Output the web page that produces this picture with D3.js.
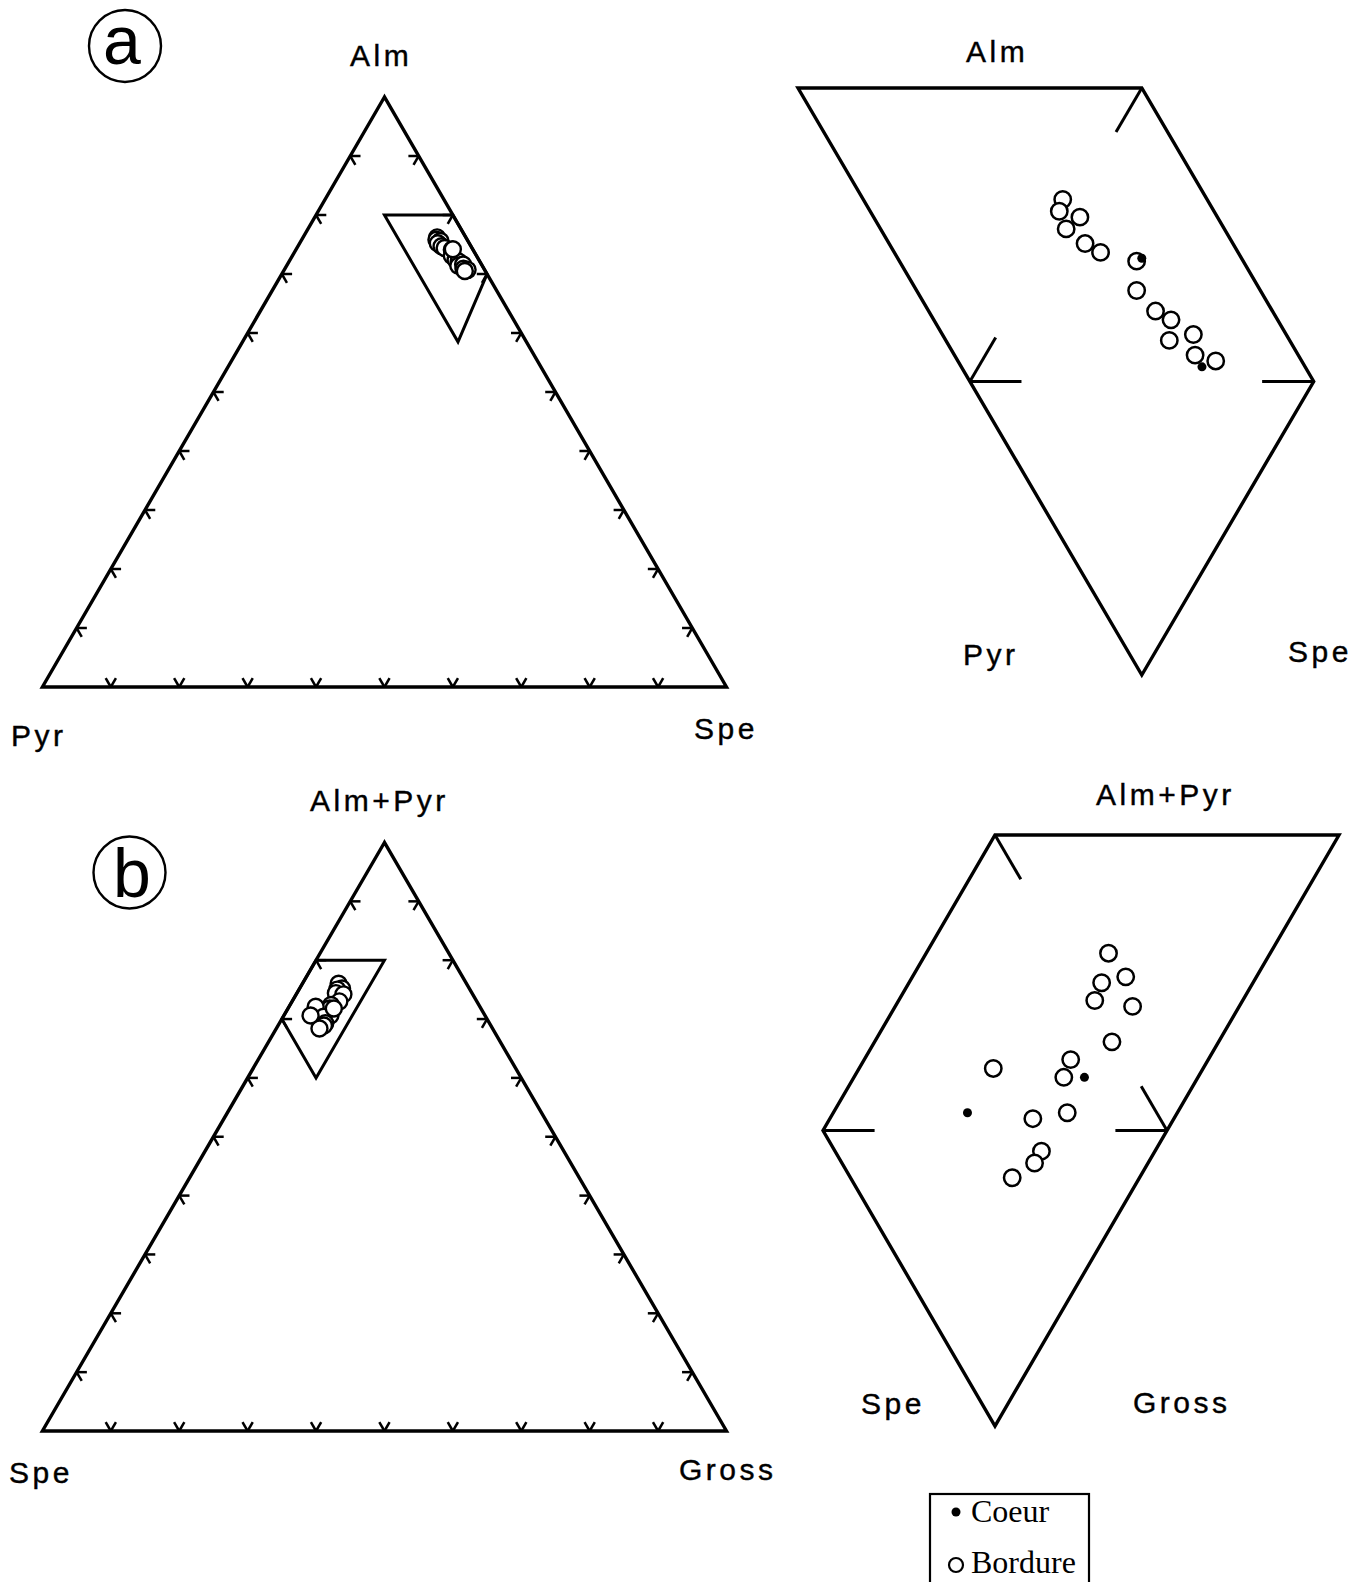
<!DOCTYPE html>
<html>
<head>
<meta charset="utf-8">
<script src="https://cdn.jsdelivr.net/npm/d3@7"></script>
<style>
  body { margin: 0; background: #fff; }
  text { fill: #000; }
</style>
</head>
<body>
<svg id="chart"></svg>
<script>
// compositions are written [top, left, right]
// panel a : [Alm, Pyr, Spe]     panel b : [Alm+Pyr, Spe, Gross]

const axesA = ["Alm", "Pyr", "Spe"];
const axesB = ["Alm+Pyr", "Spe", "Gross"];
const legendItems = ["Coeur", "Bordure"];
const panelNames = ["a", "b"];

const tickValues = [0.1, 0.2, 0.3, 0.4, 0.5, 0.6, 0.7, 0.8, 0.9];

// panel a, rims (open circles)
const bordureA = [
  [0.762, 0.042, 0.196], [0.758, 0.045, 0.197], [0.756, 0.040, 0.204],
  [0.752, 0.046, 0.202], [0.747, 0.043, 0.210], [0.744, 0.040, 0.216],
  [0.741, 0.031, 0.228], [0.731, 0.036, 0.233], [0.724, 0.034, 0.242],
  [0.721, 0.031, 0.248], [0.714, 0.035, 0.251], [0.716, 0.027, 0.257],
  [0.709, 0.030, 0.261], [0.707, 0.025, 0.268]
];
// panel a, cores (filled dots)
const coeurA = [[0.742, 0.029, 0.229], [0.705, 0.030, 0.265]];

// panel b
const bordureB = [
  [0.760, 0.187, 0.053], [0.752, 0.186, 0.062], [0.750, 0.194, 0.056],
  [0.744, 0.199, 0.057], [0.742, 0.189, 0.069], [0.730, 0.201, 0.069],
  [0.724, 0.216, 0.060], [0.718, 0.221, 0.061], [0.721, 0.240, 0.039],
  [0.706, 0.226, 0.068], [0.704, 0.237, 0.059], [0.693, 0.240, 0.067],
  [0.689, 0.244, 0.067], [0.684, 0.253, 0.063]
];
const coeurB = [[0.718, 0.215, 0.067], [0.706, 0.255, 0.039]];

// zoom windows (corners of the enlarged area)
const frameA = [[0.8, 0.1, 0.1], [0.8, 0, 0.2], [0.7, 0, 0.3], [0.6, 0.1, 0.3]];
const insetA = [[0.8, 0.1, 0.1], [0.8, 0, 0.2], [0.7, 0, 0.3], [0.585, 0.1, 0.315]];
const frameB = [[0.8, 0.2, 0], [0.8, 0.1, 0.1], [0.6, 0.3, 0.1], [0.7, 0.3, 0]];

// grid ticks on the enlarged frames: point + directions along grid lines
const frameTicksA = [
  { p: [0.8, 0, 0.2], d: [[-1, 1, 0]] },
  { p: [0.7, 0.1, 0.2], d: [[0, -1, 1], [1, -1, 0]] },
  { p: [0.7, 0, 0.3], d: [[0, 1, -1]] }
];
const frameTicksB = [
  { p: [0.8, 0.2, 0], d: [[-1, 0, 1]] },
  { p: [0.7, 0.3, 0], d: [[0, -1, 1]] },
  { p: [0.7, 0.2, 0.1], d: [[0, 1, -1], [1, 0, -1]] }
];

const W = 1353, H = 1582;
const tickLen = 0.015;
const sans = '"Liberation Sans", Arial, sans-serif';
const serif = '"Liberation Serif", "Times New Roman", serif';

const svg = d3.select("#chart").attr("width", W).attr("height", H);
svg.append("rect").attr("width", W).attr("height", H).attr("fill", "#fff");

// ternary -> screen through two linear scales
function makeProj(uDom, uRange, vDom, vRange) {
  const x = d3.scaleLinear().domain(uDom).range(uRange);
  const y = d3.scaleLinear().domain(vDom).range(vRange);
  return p => [x(p[2] + p[0] / 2), y(p[0])];
}

const polyLine = d3.line().curve(d3.curveLinearClosed);

function drawOutline(g, proj, corners, sw) {
  g.append("path")
    .attr("d", polyLine(corners.map(proj)))
    .attr("fill", "none")
    .attr("stroke", "#000")
    .attr("stroke-width", sw)
    .attr("stroke-linejoin", "miter");
}

function drawTicks(g, proj, ticks, sw) {
  ticks.forEach(t => {
    t.d.forEach(d => {
      const end = t.p.map((c, i) => c + d[i] * tickLen);
      const a = proj(t.p), b = proj(end);
      g.append("line")
        .attr("x1", a[0]).attr("y1", a[1])
        .attr("x2", b[0]).attr("y2", b[1])
        .attr("stroke", "#000").attr("stroke-width", sw);
    });
  });
}

function mainTicks() {
  const out = [];
  tickValues.forEach(v => {
    out.push({ p: [v, 1 - v, 0], d: [[0, -1, 1], [-1, 0, 1]] });
    out.push({ p: [v, 0, 1 - v], d: [[0, 1, -1], [-1, 1, 0]] });
    out.push({ p: [0, 1 - v, v], d: [[1, 0, -1], [1, -1, 0]] });
  });
  return out;
}

function drawMain(proj, inset, points) {
  const g = svg.append("g");
  drawOutline(g, proj, [[1, 0, 0], [0, 1, 0], [0, 0, 1]], 3.4);
  drawTicks(g, proj, mainTicks(), 2.5);
  drawOutline(g, proj, inset, 3);
  g.selectAll("circle")
    .data(points)
    .join("circle")
    .attr("cx", d => proj(d)[0])
    .attr("cy", d => proj(d)[1])
    .attr("r", 8)
    .attr("fill", "#fff")
    .attr("stroke", "#000")
    .attr("stroke-width", 2.4);
}

function drawZoom(proj, frame, ticks, rims, cores) {
  const g = svg.append("g");
  drawOutline(g, proj, frame, 3.4);
  drawTicks(g, proj, ticks, 3);
  g.selectAll("circle.rim")
    .data(rims)
    .join("circle")
    .attr("class", "rim")
    .attr("cx", d => proj(d)[0])
    .attr("cy", d => proj(d)[1])
    .attr("r", 8.2)
    .attr("fill", "#fff")
    .attr("stroke", "#000")
    .attr("stroke-width", 2.5);
  g.selectAll("circle.core")
    .data(cores)
    .join("circle")
    .attr("class", "core")
    .attr("cx", d => proj(d)[0])
    .attr("cy", d => proj(d)[1])
    .attr("r", 4.5)
    .attr("fill", "#000");
}

function label(txt, x, y) {
  svg.append("text")
    .attr("x", x).attr("y", y)
    .style("font-family", sans)
    .attr("font-size", 30)
    .attr("letter-spacing", 3.5)
    .attr("stroke", "#000").attr("stroke-width", 0.4)
    .text(txt);
}

function circledLetter(txt, cx, cy, tx, ty) {
  svg.append("circle")
    .attr("cx", cx).attr("cy", cy).attr("r", 36)
    .attr("fill", "none").attr("stroke", "#000").attr("stroke-width", 2.4);
  svg.append("text")
    .attr("x", tx).attr("y", ty)
    .attr("text-anchor", "middle")
    .style("font-family", sans)
    .attr("font-size", 68)
    .text(txt);
}

// ---- panel a
const projA = makeProj([0, 1], [42.4, 726.5], [0, 1], [687, 97]);
const zoomA = makeProj([0.5, 0.6], [798, 1141.8], [0.6, 0.8], [675, 88]);
drawMain(projA, insetA, bordureA.concat(coeurA));
drawZoom(zoomA, frameA, frameTicksA, bordureA, coeurA);

circledLetter(panelNames[0], 125, 46, 122, 64);
label(axesA[0], 350, 66);
label(axesA[1], 11, 746);
label(axesA[2], 694, 739);
label(axesA[0], 966, 62);
label(axesA[1], 963, 665);
label(axesA[2], 1288, 662);

// ---- panel b
const projB = makeProj([0, 1], [42.4, 726.5], [0, 1], [1431, 842.5]);
const zoomB = makeProj([0.35, 0.5], [823, 1339], [0.6, 0.8], [1426, 835]);
drawMain(projB, frameB, bordureB.concat(coeurB));
drawZoom(zoomB, frameB, frameTicksB, bordureB, coeurB);

circledLetter(panelNames[1], 129.5, 872.5, 132, 897);
label(axesB[0], 310, 811);
label(axesB[1], 9, 1483);
label(axesB[2], 679, 1480);
label(axesB[0], 1096, 805);
label(axesB[1], 861, 1414);
label(axesB[2], 1133, 1413);

// ---- legend
const leg = svg.append("g");
leg.append("rect")
  .attr("x", 930).attr("y", 1494).attr("width", 159).attr("height", 110)
  .attr("fill", "none").attr("stroke", "#000").attr("stroke-width", 2.2);
leg.append("circle").attr("cx", 956).attr("cy", 1512).attr("r", 4.5).attr("fill", "#000");
leg.append("circle").attr("cx", 956).attr("cy", 1565).attr("r", 7)
  .attr("fill", "#fff").attr("stroke", "#000").attr("stroke-width", 2.2);
leg.selectAll("text")
  .data(legendItems)
  .join("text")
  .attr("x", 971)
  .attr("y", (d, i) => i === 0 ? 1522 : 1573)
  .style("font-family", serif)
  .attr("font-size", 32)
  .text(d => d);
</script>
</body>
</html>
